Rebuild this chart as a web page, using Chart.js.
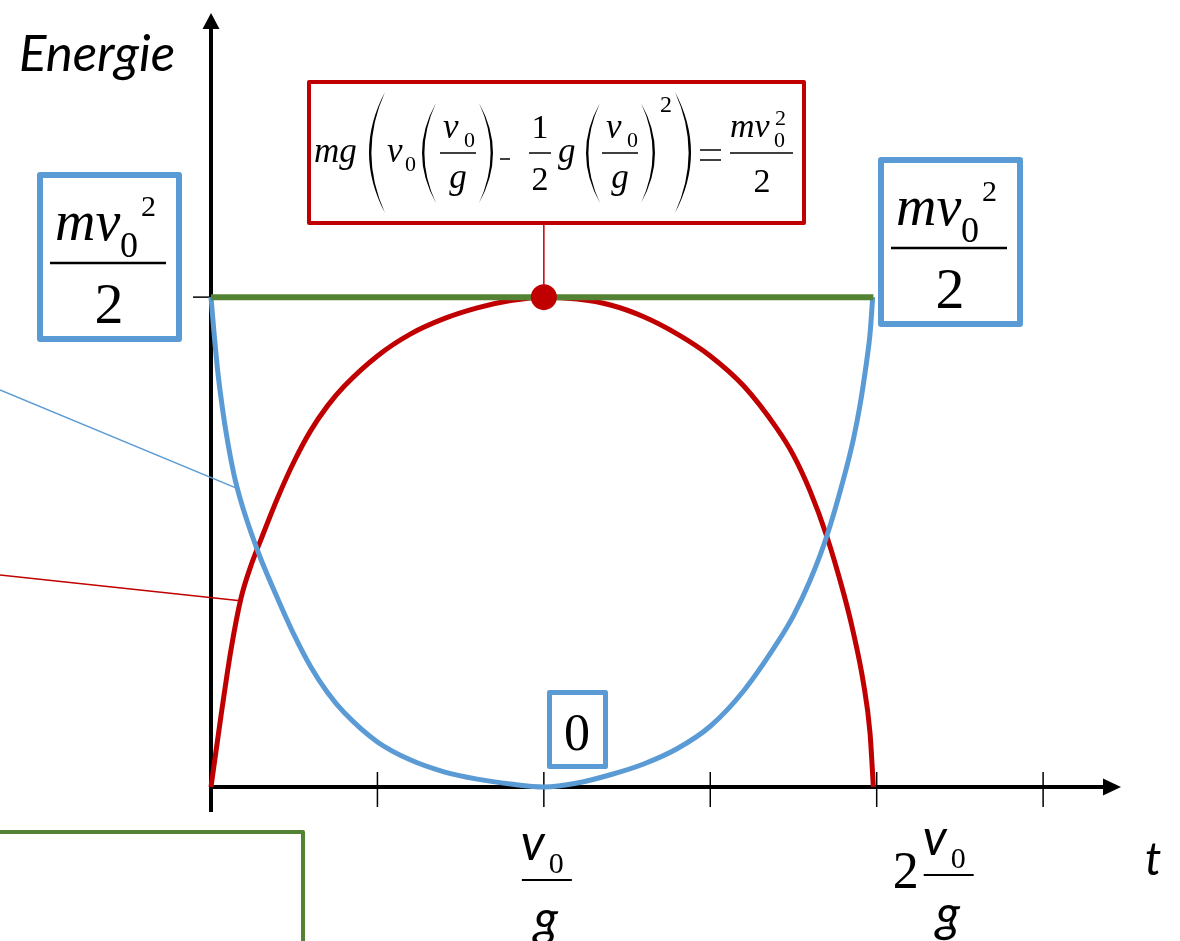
<!DOCTYPE html>
<html>
<head>
<meta charset="utf-8">
<script src="https://cdn.jsdelivr.net/npm/chart.js@4.4.1/dist/chart.umd.min.js"></script>
<style>
  html, body { margin: 0; padding: 0; background: #fff; }
  canvas { display: block; }
</style>
</head>
<body>
<canvas id="energyChart" width="1180" height="941"></canvas>
<script>
// Energie einer senkrecht geworfenen Masse, Zeit in Einheiten v0/g, Energie in Einheiten m*v0^2/2
const redTimes  = [0, 0.03, 0.06, 0.09, 0.12, 0.15, 0.2, 0.25, 0.3, 0.35, 0.4, 0.5, 0.6, 0.7, 0.8, 0.9, 1,
                   1.1, 1.2, 1.3, 1.4, 1.5, 1.6, 1.7, 1.75, 1.8, 1.85, 1.9, 1.93, 1.96, 1.98, 1.99];
const redEnergy = [0, 0.145, 0.28, 0.385, 0.452, 0.505, 0.59, 0.665, 0.728, 0.778, 0.818, 0.88, 0.925,
                   0.956, 0.978, 0.993, 1,
                   0.996, 0.984, 0.96, 0.925, 0.88, 0.819, 0.732, 0.677, 0.604, 0.512, 0.397, 0.315,
                   0.213, 0.11, 0];

const blueTimes  = [0, 0.01, 0.02, 0.035, 0.05, 0.07, 0.09, 0.12, 0.15, 0.2, 0.25, 0.3, 0.35, 0.4, 0.5,
                    0.6, 0.7, 0.8, 0.9, 1,
                    1.1, 1.2, 1.3, 1.4, 1.5, 1.6, 1.7, 1.75, 1.8, 1.85, 1.9, 1.93, 1.95, 1.97, 1.98, 1.988];
const blueEnergy = [1, 0.92, 0.85, 0.77, 0.705, 0.635, 0.583, 0.52, 0.465, 0.385, 0.31, 0.245, 0.193,
                    0.152, 0.092, 0.055, 0.031, 0.016, 0.006, 0,
                    0.008, 0.025, 0.047, 0.078, 0.124, 0.196, 0.293, 0.35, 0.422, 0.512, 0.628, 0.71,
                    0.78, 0.87, 0.925, 1];

const totalTimes  = [0, 1.99];
const totalEnergy = [1, 1];

const peakTime = 1;
const peakEnergy = 1;

const tickTimes = [0.5, 1, 1.5, 2, 2.5];
const xMax = 2.734;
const yMax = 1.58;

const RED = "#C00000";
const BLUE = "#5B9BD5";
const GREEN = "#548235";

function toPoints(xs, ys) {
  return xs.map((x, i) => ({ x: x, y: ys[i] }));
}

const SERIF = '"Liberation Serif", "Times New Roman", serif';
const SANS = 'Lato, "Open Sans", sans-serif';

function txt(ctx, s, x, y, font, align) {
  ctx.font = font;
  ctx.textAlign = align || "left";
  ctx.textBaseline = "alphabetic";
  ctx.fillText(s, x, y);
}

function line(ctx, x1, y1, x2, y2, w, color) {
  ctx.beginPath();
  ctx.lineWidth = w;
  ctx.strokeStyle = color;
  ctx.moveTo(x1, y1);
  ctx.lineTo(x2, y2);
  ctx.stroke();
}

function box(ctx, x, y, w, h, lw, color) {
  ctx.save();
  ctx.fillStyle = "#fff";
  ctx.strokeStyle = color;
  ctx.lineWidth = lw;
  ctx.lineJoin = "round";
  ctx.beginPath();
  ctx.rect(x + lw / 2, y + lw / 2, w - lw, h - lw);
  ctx.fill();
  ctx.stroke();
  ctx.restore();
}

// Klammer als sichelförmige Fläche; dir = 1 für "(", -1 für ")"
function paren(ctx, x, top, bottom, w, dir) {
  const th = 2.4;
  const mid = (top + bottom) / 2;
  const edge = x + dir * w;
  const outer = x - dir * w;
  const inner = outer + dir * 2 * th;
  ctx.beginPath();
  ctx.fillStyle = "#000";
  ctx.moveTo(edge, top);
  ctx.quadraticCurveTo(outer, mid, edge, bottom);
  ctx.quadraticCurveTo(inner, mid, edge, top);
  ctx.fill();
}

// mv0²/2 im blauen Kasten
function kineticBox(ctx, x0, y0) {
  box(ctx, x0, y0, 145, 170, 6, BLUE);
  ctx.fillStyle = "#000";
  txt(ctx, "mv", x0 + 18, y0 + 68, "italic 56px " + SERIF);
  txt(ctx, "0", x0 + 83, y0 + 85, "36px " + SERIF);
  txt(ctx, "2", x0 + 104, y0 + 44, "30px " + SERIF);
  line(ctx, x0 + 13, y0 + 91, x0 + 129, y0 + 91, 2.5, "#000");
  txt(ctx, "2", x0 + 72, y0 + 151, "58px " + SERIF, "center");
}

// v0/g als Bruch, cx = Mitte des Bruchstrichs
function timeFraction(ctx, cx, barY) {
  ctx.fillStyle = "#000";
  txt(ctx, "v", cx - 26, barY - 20, "italic 50px " + SANS);
  txt(ctx, "0", cx + 2, barY - 7, "30px " + SERIF);
  line(ctx, cx - 25, barY, cx + 25, barY, 2, "#000");
  txt(ctx, "g", cx - 13, barY + 56, "italic 50px " + SANS);
}

const axesPlugin = {
  id: "axesPlugin",
  beforeDatasetsDraw(chart) {
    const ctx = chart.ctx;
    const area = chart.chartArea;
    const xs = chart.scales.x;
    const ys = chart.scales.y;
    const x0 = xs.getPixelForValue(0);
    const y0 = ys.getPixelForValue(0);
    ctx.save();
    // Achsen mit Pfeilspitzen
    line(ctx, x0, y0 + 25, x0, area.top + 14, 4, "#000");
    line(ctx, x0 - 2, y0, area.right - 14, y0, 4, "#000");
    ctx.fillStyle = "#000";
    ctx.beginPath();
    ctx.moveTo(x0, area.top);
    ctx.lineTo(x0 - 8.5, area.top + 16);
    ctx.lineTo(x0 + 8.5, area.top + 16);
    ctx.closePath();
    ctx.fill();
    ctx.beginPath();
    ctx.moveTo(area.right, y0);
    ctx.lineTo(area.right - 18, y0 - 8.5);
    ctx.lineTo(area.right - 18, y0 + 8.5);
    ctx.closePath();
    ctx.fill();
    // Teilstriche
    tickTimes.forEach((t) => {
      const px = xs.getPixelForValue(t);
      line(ctx, px, y0 - 15, px, y0 + 20, 1.5, "#000");
    });
    const yTop = ys.getPixelForValue(peakEnergy);
    line(ctx, x0 - 18, yTop, x0, yTop, 1.5, "#000");
    ctx.restore();
  },
  afterDraw(chart) {
    const ctx = chart.ctx;
    const xs = chart.scales.x;
    const ys = chart.scales.y;
    ctx.save();

    // Achsenbeschriftungen
    ctx.fillStyle = "#000";
    txt(ctx, "Energie", 19, 71, "italic 51px " + SANS);
    txt(ctx, "t", 1145, 875, "italic 46px " + SANS);
    timeFraction(ctx, xs.getPixelForValue(1) + 3, 880);
    const x2 = xs.getPixelForValue(2);
    txt(ctx, "2", x2 + 16, 888, "52px " + SERIF);
    timeFraction(ctx, x2 + 72, 875);

    // Hinweislinien von links
    line(ctx, 0, 390, xs.getPixelForValue(0.08), ys.getPixelForValue(0.609), 1.5, BLUE);
    line(ctx, 0, 575, xs.getPixelForValue(0.088), ys.getPixelForValue(0.38), 1.5, RED);

    // Kasten mit Rechnung zum Höhepunkt
    const px = xs.getPixelForValue(peakTime);
    line(ctx, px, 224, px, ys.getPixelForValue(peakEnergy) - 8, 1.5, RED);
    box(ctx, 307, 80, 499, 145, 4, RED);
    ctx.fillStyle = "#000";
    txt(ctx, "mg", 314, 162, "italic 35px " + SERIF);
    paren(ctx, 369, 92, 213, 16, 1);
    txt(ctx, "v", 387, 162, "italic 35px " + SERIF);
    txt(ctx, "0", 405, 171, "22px " + SERIF);
    paren(ctx, 422, 103, 203, 14, 1);
    txt(ctx, "v", 443, 138, "italic 35px " + SERIF);
    txt(ctx, "0", 464, 147, "22px " + SERIF);
    line(ctx, 440, 153, 476, 153, 1.5, "#000");
    txt(ctx, "g", 458, 188, "italic 35px " + SERIF, "center");
    paren(ctx, 493, 103, 203, 14, -1);
    line(ctx, 500, 159, 510, 159, 1.5, "#000");
    txt(ctx, "1", 540, 138, "34px " + SERIF, "center");
    line(ctx, 529, 153, 551, 153, 1.5, "#000");
    txt(ctx, "2", 540, 190, "34px " + SERIF, "center");
    txt(ctx, "g", 558, 162, "italic 35px " + SERIF);
    paren(ctx, 586, 103, 203, 14, 1);
    txt(ctx, "v", 606, 138, "italic 35px " + SERIF);
    txt(ctx, "0", 627, 147, "22px " + SERIF);
    line(ctx, 602, 153, 638, 153, 1.5, "#000");
    txt(ctx, "g", 620, 188, "italic 35px " + SERIF, "center");
    paren(ctx, 655, 103, 203, 14, -1);
    txt(ctx, "2", 660, 112, "24px " + SERIF);
    paren(ctx, 691, 92, 213, 16, -1);
    line(ctx, 700, 150, 721, 150, 1.5, "#000");
    line(ctx, 700, 160, 721, 160, 1.5, "#000");
    txt(ctx, "mv", 730, 137, "italic 34px " + SERIF);
    txt(ctx, "0", 774, 147, "22px " + SERIF);
    txt(ctx, "2", 775, 125, "22px " + SERIF);
    line(ctx, 730, 153, 793, 153, 1.5, "#000");
    txt(ctx, "2", 762, 192, "34px " + SERIF, "center");

    // Kästen mit Werten
    kineticBox(ctx, 37, 172);
    kineticBox(ctx, 878, 157);
    box(ctx, 547, 690, 61, 79, 5, BLUE);
    ctx.fillStyle = "#000";
    txt(ctx, "0", 577, 750, "52px " + SERIF, "center");

    // grüner Kasten unten links
    ctx.strokeStyle = GREEN;
    ctx.lineWidth = 4;
    ctx.lineJoin = "round";
    ctx.beginPath();
    ctx.moveTo(-5, 832);
    ctx.lineTo(303, 832);
    ctx.lineTo(303, 950);
    ctx.stroke();

    ctx.restore();
  },
};

const ctx = document.getElementById("energyChart").getContext("2d");
new Chart(ctx, {
  type: "line",
  data: {
    datasets: [
      {
        label: "Höhepunkt",
        data: [{ x: peakTime, y: peakEnergy }],
        showLine: false,
        pointRadius: 13,
        pointBackgroundColor: RED,
        pointBorderWidth: 0,
        clip: false,
      },
      {
        label: "Gesamtenergie",
        data: toPoints(totalTimes, totalEnergy),
        borderColor: GREEN,
        borderWidth: 6,
        pointRadius: 0,
        clip: false,
      },
      {
        label: "kinetische Energie",
        data: toPoints(blueTimes, blueEnergy),
        borderColor: BLUE,
        borderWidth: 5,
        pointRadius: 0,
        cubicInterpolationMode: "monotone",
        clip: false,
      },
      {
        label: "potentielle Energie",
        data: toPoints(redTimes, redEnergy),
        borderColor: RED,
        borderWidth: 5,
        pointRadius: 0,
        cubicInterpolationMode: "monotone",
        clip: false,
      },
    ],
  },
  options: {
    responsive: false,
    animation: false,
    layout: { padding: { left: 211, right: 59, top: 8, bottom: 154 } },
    scales: {
      x: { type: "linear", min: 0, max: xMax, display: false },
      y: { type: "linear", min: 0, max: yMax, display: false },
    },
    plugins: {
      legend: { display: false },
      tooltip: { enabled: false },
    },
  },
  plugins: [axesPlugin],
});
</script>
</body>
</html>
